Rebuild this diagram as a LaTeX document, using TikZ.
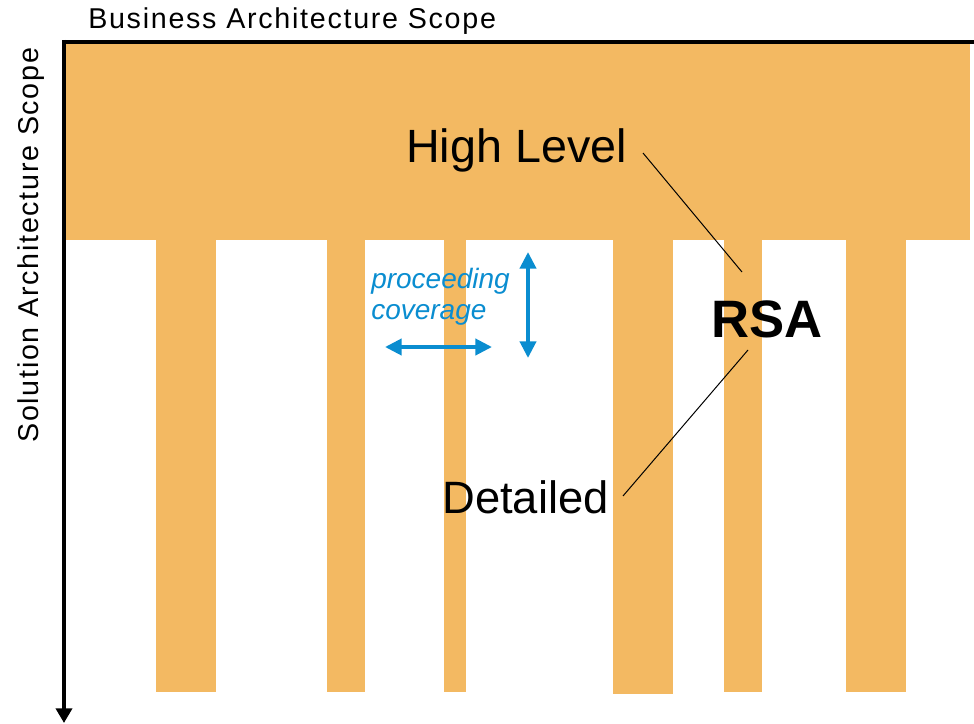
\documentclass[tikz,border=0pt]{standalone}
\usepackage{fontspec}
\setmainfont{Liberation Sans}
\newfontfamily\trackfont[LetterSpace=6]{Liberation Sans}
\usetikzlibrary{arrows.meta}
\definecolor{barorange}{HTML}{F3B962}
\definecolor{covblue}{HTML}{0A8DD0}
\tikzset{
  bar/.style={fill=barorange, draw=none},
  axis/.style={line width=3pt, black},
  pointer/.style={line width=0.75pt, black},
  covarrow/.style={line width=3pt, covblue, {Triangle[width=12pt,length=12.5pt]}-{Triangle[width=12pt,length=12.5pt]}},
  lbl/.style={inner sep=0pt, anchor=base west},
}
\begin{document}
\begin{tikzpicture}[x=0.75pt, y=-0.75pt]
\useasboundingbox (0,0) rectangle (974,724);
% orange band and columns
\fill[bar] (64,44) rectangle (970,240);
\fill[bar] (156,238) rectangle (216,692);
\fill[bar] (327,238) rectangle (365,692);
\fill[bar] (444,238) rectangle (466,692);
\fill[bar] (613,238) rectangle (673,694);
\fill[bar] (724,238) rectangle (762,692);
\fill[bar] (846,238) rectangle (906,692);
% axes
\coordinate (corner) at (64,42);
\coordinate (xend) at (974,42);
\coordinate (ytip) at (64,723);
\draw[axis] (62,42) -- (xend);
\draw[axis, -{Triangle[width=12pt,length=11pt]}] (64,40) -- (ytip);
% axis labels
\node[lbl, font=\trackfont\fontsize{21.5pt}{24pt}\selectfont] (bas) at (88,28.5) {Business Architecture Scope};
\node[lbl, rotate=90, font=\trackfont\fontsize{21.5pt}{24pt}\selectfont] (sas) at (38.5,443) {Solution Architecture Scope};
% main labels
\node[lbl, font=\fontsize{35pt}{40pt}\selectfont] (hl) at (406,162) {High Level};
\node[lbl, font=\fontsize{34pt}{40pt}\selectfont] (det) at (442,513.5) {Detailed};
\node[lbl, font=\bfseries\fontsize{39.5pt}{44pt}\selectfont] (rsa) at (711,337) {RSA};
% pointer lines
\coordinate (hlend) at (643,153);
\coordinate (rsatop) at (742,272);
\coordinate (rsabot) at (748,350);
\coordinate (detend) at (623,496);
\draw[pointer] (hlend) -- (rsatop);
\draw[pointer] (rsabot) -- (detend);
% coverage
\node[lbl, text=covblue, font=\itshape\fontsize{21pt}{26pt}\selectfont] (proc) at (371,288) {proceeding};
\node[lbl, text=covblue, font=\itshape\fontsize{21pt}{26pt}\selectfont] (cov) at (371,319) {coverage};
\coordinate (hl1) at (385,347);
\coordinate (hr1) at (492,347);
\coordinate (vt1) at (528,252);
\coordinate (vb1) at (528,358);
\draw[covarrow] (hl1) -- (hr1);
\draw[covarrow] (vt1) -- (vb1);
\end{tikzpicture}
\end{document}
